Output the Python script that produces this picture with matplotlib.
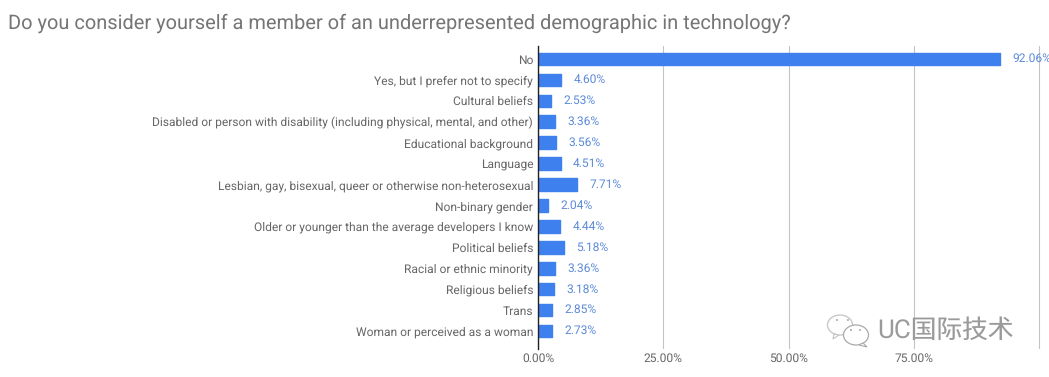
import matplotlib
matplotlib.use("Agg")
import matplotlib.pyplot as plt
from matplotlib.patches import Ellipse, Polygon, Circle

categories = ["No", "Yes, but I prefer not to specify", "Cultural beliefs",
    "Disabled or person with disability (including physical, mental, and other)",
    "Educational background", "Language",
    "Lesbian, gay, bisexual, queer or otherwise non-heterosexual",
    "Non-binary gender", "Older or younger than the average developers I know",
    "Political beliefs", "Racial or ethnic minority", "Religious beliefs",
    "Trans", "Woman or perceived as a woman"]
values = [92.06, 4.60, 2.53, 3.36, 3.56, 4.51, 7.71, 2.04, 4.44, 5.18, 3.36, 3.18, 2.85, 2.73]
xticks = [0, 25, 50, 75]
title = "Do you consider yourself a member of an underrepresented demographic in technology?"

plt.rcParams['font.family'] = ['Roboto', 'Noto Sans CJK SC', 'DejaVu Sans']
plt.rcParams['text.hinting'] = 'no_hinting'
plt.rcParams['text.hinting_factor'] = 1
W, H = 1049, 377
fig = plt.figure(figsize=(W/100, H/100), dpi=100, facecolor='white')
ax = fig.add_axes([538/W, 1-349/H, (1049-538)/W, (349-46)/H])
ypos = list(range(len(categories)))
ax.barh(ypos, values, height=0.6, color='#3d80ee', edgecolor='#3d80ee',
        linewidth=1.0, joinstyle='round', zorder=3)
ax.set_ylim(13.86, -0.62)
ax.set_xlim(0, (1049-538)/((914-538)/75))
ax.set_yticks(ypos)
ax.set_yticklabels(categories, fontsize=8.7, color='#666666')
ax.set_xticks(xticks)
ax.set_xticks([100], minor=True)
ax.set_xticklabels([f"{t:.2f}%" for t in xticks], fontsize=8.7, color='#666666')
ax.tick_params(axis='y', which='both', length=0, pad=3.5)
ax.tick_params(axis='x', which='both', length=0, pad=3)
ax.grid(axis='x', which='major', color='#c4c4c4', lw=0.8, zorder=0)
ax.grid(axis='x', which='minor', color='#c4c4c4', lw=0.8, zorder=0)
for s in ['top', 'right', 'bottom']:
    ax.spines[s].set_visible(False)
ax.spines['left'].set_color('#222222')
ax.spines['left'].set_linewidth(1.0)
ax.spines['left'].set_zorder(5)
for y, v in zip(ypos, values):
    ax.annotate(f"{v:.2f}%", (v, y), xytext=(9, 0), textcoords='offset points',
                va='center', ha='left', fontsize=8.9, color='#5b8ad8', zorder=6,
                annotation_clip=False)
fig.text(8/W, 1-23/H, title, fontsize=14.45, color='#757575', va='center', ha='left')
fig.text(877/W, 1-331/H, "UC国际技术", fontsize=18.5, color='#9a9a9a', va='center', ha='left')

# watermark icon, drawn in pixel coordinates
ov = fig.add_axes([0, 0, 1, 1], facecolor='none')
ov.set_xlim(0, W)
ov.set_ylim(H, 0)
ov.axis('off')
c = '#c4c4c4'
ov.add_patch(Ellipse((840, 325), 25, 20, fc='none', ec=c, lw=0.9))
ov.add_patch(Polygon([(834, 334), (833, 339), (839, 335)], closed=True, fc='white', ec=c, lw=0.8))
ov.add_patch(Ellipse((856, 335), 25, 20, fc='white', ec='#aaaaaa', lw=0.9, zorder=3))
ov.add_patch(Polygon([(863, 343), (867, 347), (859, 345)], closed=True, fc='white', ec='#aaaaaa', lw=0.8, zorder=3))
for x, y in [(837, 320), (848, 320), (851, 330), (860, 330)]:
    ov.add_patch(Circle((x, y), 1.0, fc='#aaaaaa', ec='none', zorder=4))
fig.savefig("out.png", dpi=100)
